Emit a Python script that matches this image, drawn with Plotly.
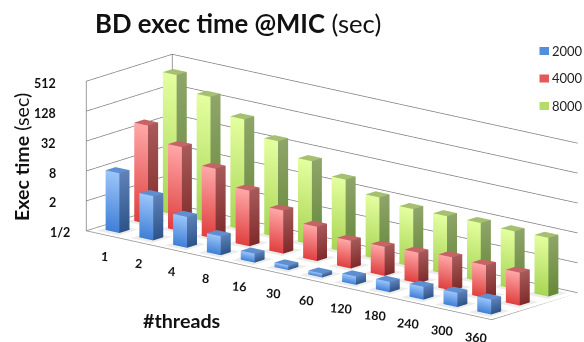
import math
import plotly.graph_objects as go

THREADS = ["1", "2", "4", "8", "16", "30", "60", "120", "180", "240", "300", "360"]
SERIES = ["2000", "4000", "8000"]
VALUES_2000 = [8, 3.9, 2.1, 1.21, 0.76, 0.62, 0.6, 0.74, 0.81, 0.91, 0.97, 1.0]
VALUES_4000 = [48, 25, 12.9, 6.6, 3.7, 2.46, 1.81, 1.93, 2.07, 2.35, 2.3, 2.3]
VALUES_8000 = [329, 169, 84, 43, 24, 14.4, 8.9, 7.3, 7.4, 7.6, 7.3, 7.6]
Z_TICKS = [0.5, 2, 8, 32, 128, 512]
Z_TICK_TEXT = ["1/2", "2", "8", "32", "128", "512"]

FONT = "Lato"
BW, BD = 0.41, 0.35
Z0 = 0.5

COLORS = {
    "2000": dict(ft="#9cc6fb", fb="#3f7fd6", st="#5f82b8", sb="#2c5488", t="#5f8fd0", key="#4f8fdc"),
    "4000": dict(ft="#ffa8a8", fb="#df3f3f", st="#a85a5a", sb="#7f2a2a", t="#c56464", key="#e25a5a"),
    "8000": dict(ft="#e4ffa0", fb="#a8d554", st="#8fa56a", sb="#66893a", t="#a5c070", key="#b4dc6a"),
}


def bars(values, s, c):
    X, Y, Z, I, J, K, VC = [], [], [], [], [], [], []

    def quad(pts, cols):
        n = len(X)
        for (px, py, pz), col in zip(pts, cols):
            X.append(px); Y.append(py); Z.append(pz); VC.append(col)
        I.extend([n, n]); J.extend([n + 1, n + 2]); K.extend([n + 2, n + 3])

    for i, v in enumerate(values):
        x0, x1 = i + 0.5 - BW / 2, i + 0.5 + BW / 2
        y0, y1 = s + 0.5 - BD / 2, s + 0.5 + BD / 2
        quad([(x0, y0, Z0), (x1, y0, Z0), (x1, y0, v), (x0, y0, v)], [c["fb"], c["fb"], c["ft"], c["ft"]])
        quad([(x1, y0, Z0), (x1, y1, Z0), (x1, y1, v), (x1, y0, v)], [c["sb"], c["sb"], c["st"], c["st"]])
        quad([(x0, y0, v), (x1, y0, v), (x1, y1, v), (x0, y1, v)], [c["t"]] * 4)
    return go.Mesh3d(x=X, y=Y, z=Z, i=I, j=J, k=K, vertexcolor=VC, name=SERIES[s],
                     flatshading=True, showscale=False, hoverinfo="skip",
                     lighting=dict(ambient=1, diffuse=0, specular=0, roughness=1, fresnel=0))


def floor():
    n = len(THREADS)
    X = [0, n, n, 0]; Y = [0, 0, 3, 3]; Z = [Z0 * 0.995] * 4
    I = [0, 0]; J = [1, 2]; K = [2, 3]; VC = ["#b0b0b0"] * 4
    for i in range(n):
        for s in range(3):
            b = len(X)
            x0, x1, y0, y1 = i + 0.18, i + 0.82, s + 0.16, s + 0.84
            X += [x0, x1, x1, x0]; Y += [y0, y0, y1, y1]; Z += [Z0 * 1.002] * 4
            VC += ["#ececec"] * 4
            I += [b, b]; J += [b + 1, b + 2]; K += [b + 2, b + 3]
    return go.Mesh3d(x=X, y=Y, z=Z, i=I, j=J, k=K, vertexcolor=VC, showscale=False, hoverinfo="skip",
                     lighting=dict(ambient=1, diffuse=0, specular=0, roughness=1, fresnel=0))


n = len(THREADS)
data = [floor()]
for s, vals in enumerate([VALUES_2000, VALUES_4000, VALUES_8000]):
    data.append(bars(vals, s, COLORS[SERIES[s]]))
for (cx, cy) in [(0, 0), (0, 3)]:
    data.append(go.Scatter3d(x=[cx, cx], y=[cy, cy], z=[Z_TICKS[0], Z_TICKS[-1]], mode="lines",
                             line=dict(color="#7c7c7c", width=1.5), hoverinfo="skip", showlegend=False))
data.append(go.Scatter3d(x=[0, n, n, 0, 0], y=[0, 0, 3, 3, 0], z=[Z0] * 5, mode="lines",
                         line=dict(color="#909090", width=1.5), hoverinfo="skip", showlegend=False))

LZ0 = math.log10(Z0)
scene_ann = []
for i, t in enumerate(THREADS):
    scene_ann.append(dict(x=i + 0.5, y=0.001, z=LZ0 + 1e-4, text="<b>%s</b>" % t, showarrow=False, xshift=1, yshift=-22,
                          textangle=4, font=dict(family=FONT, size=12.5, color="#111")))
for v, t in zip(Z_TICKS, Z_TICK_TEXT):
    lv = math.log10(v)
    scene_ann.append(dict(x=0.001, y=0.001, z=lv + (1e-4 if v == Z0 else -1e-4), text="<b>%s</b>" % t, showarrow=False,
                          xanchor="right", xshift=-14 if v == Z0 else -28, yshift=-2,
                          font=dict(family=FONT, size=12.5, color="#111")))

axis_off = dict(showgrid=False, zeroline=False, showline=False, showticklabels=False, ticks="",
                showbackground=False, showspikes=False, title=dict(text=""))
e = math.radians(15.2)
a = math.radians(39.9)
D = 2.0
fig = go.Figure(data=data)
fig.update_layout(
    width=584, height=342, margin=dict(l=0, r=0, t=0, b=0), paper_bgcolor="white", showlegend=False,
    scene=dict(
        domain=dict(x=[0.137, 1], y=[0, 0.906]),
        aspectmode="manual", aspectratio=dict(x=3.41, y=0.864, z=1),
        camera=dict(projection=dict(type="orthographic"),
                    up=dict(x=0, y=0, z=1), center=dict(x=0, y=0, z=0),
                    eye=dict(x=D * math.sin(a) * math.cos(e), y=-D * math.cos(a) * math.cos(e), z=D * math.sin(e))),
        xaxis=dict(axis_off, range=[0, n]),
        yaxis=dict(axis_off, range=[0, 3]),
        zaxis=dict(type="log", range=[math.log10(Z_TICKS[0]), math.log10(Z_TICKS[-1])], tickmode="array",
                   tickvals=Z_TICKS, ticktext=Z_TICK_TEXT, showticklabels=False, showgrid=True, gridcolor="#7c7c7c",
                   gridwidth=1.5, zeroline=False, showline=False, ticks="", showbackground=False,
                   showspikes=False, title=dict(text="")),
        annotations=scene_ann,
    ),
    annotations=[
        dict(xref="paper", yref="paper", x=237.5 / 584, y=1 - 23 / 342, text="<b>BD exec time @MIC</b> (sec)",
             xanchor="center", yanchor="middle",
             showarrow=False, font=dict(family=FONT, size=25.7, color="#111")),
        dict(xref="paper", yref="paper", x=22 / 584, y=1 - 157 / 342, text="<b>Exec time</b> (sec)", textangle=-90,
             xanchor="center", yanchor="middle",
             showarrow=False, font=dict(family=FONT, size=19.6, color="#111")),
        dict(xref="paper", yref="paper", x=182 / 584, y=1 - 320 / 342, text="<b>#threads</b>",
             xanchor="center", yanchor="middle",
             showarrow=False, font=dict(family=FONT, size=19.7, color="#111")),
    ] + [
        dict(xref="paper", yref="paper", x=550 / 584, y=1 - (51 + 27.5 * k) / 342, text=name, xanchor="left",
             yanchor="middle",
             showarrow=False, font=dict(family=FONT, size=13, color="#222"))
        for k, name in enumerate(SERIES)
    ],
    shapes=[
        dict(type="rect", xref="paper", yref="paper", x0=539.5 / 584, x1=549 / 584,
             y0=1 - (55 + 27.5 * k) / 342, y1=1 - (47 + 27.5 * k) / 342,
             fillcolor=COLORS[name]["key"], line=dict(width=0))
        for k, name in enumerate(SERIES)
    ],
)
fig.write_html("out.html", config=dict(displayModeBar=False), post_script="document.body.style.margin='0';")
